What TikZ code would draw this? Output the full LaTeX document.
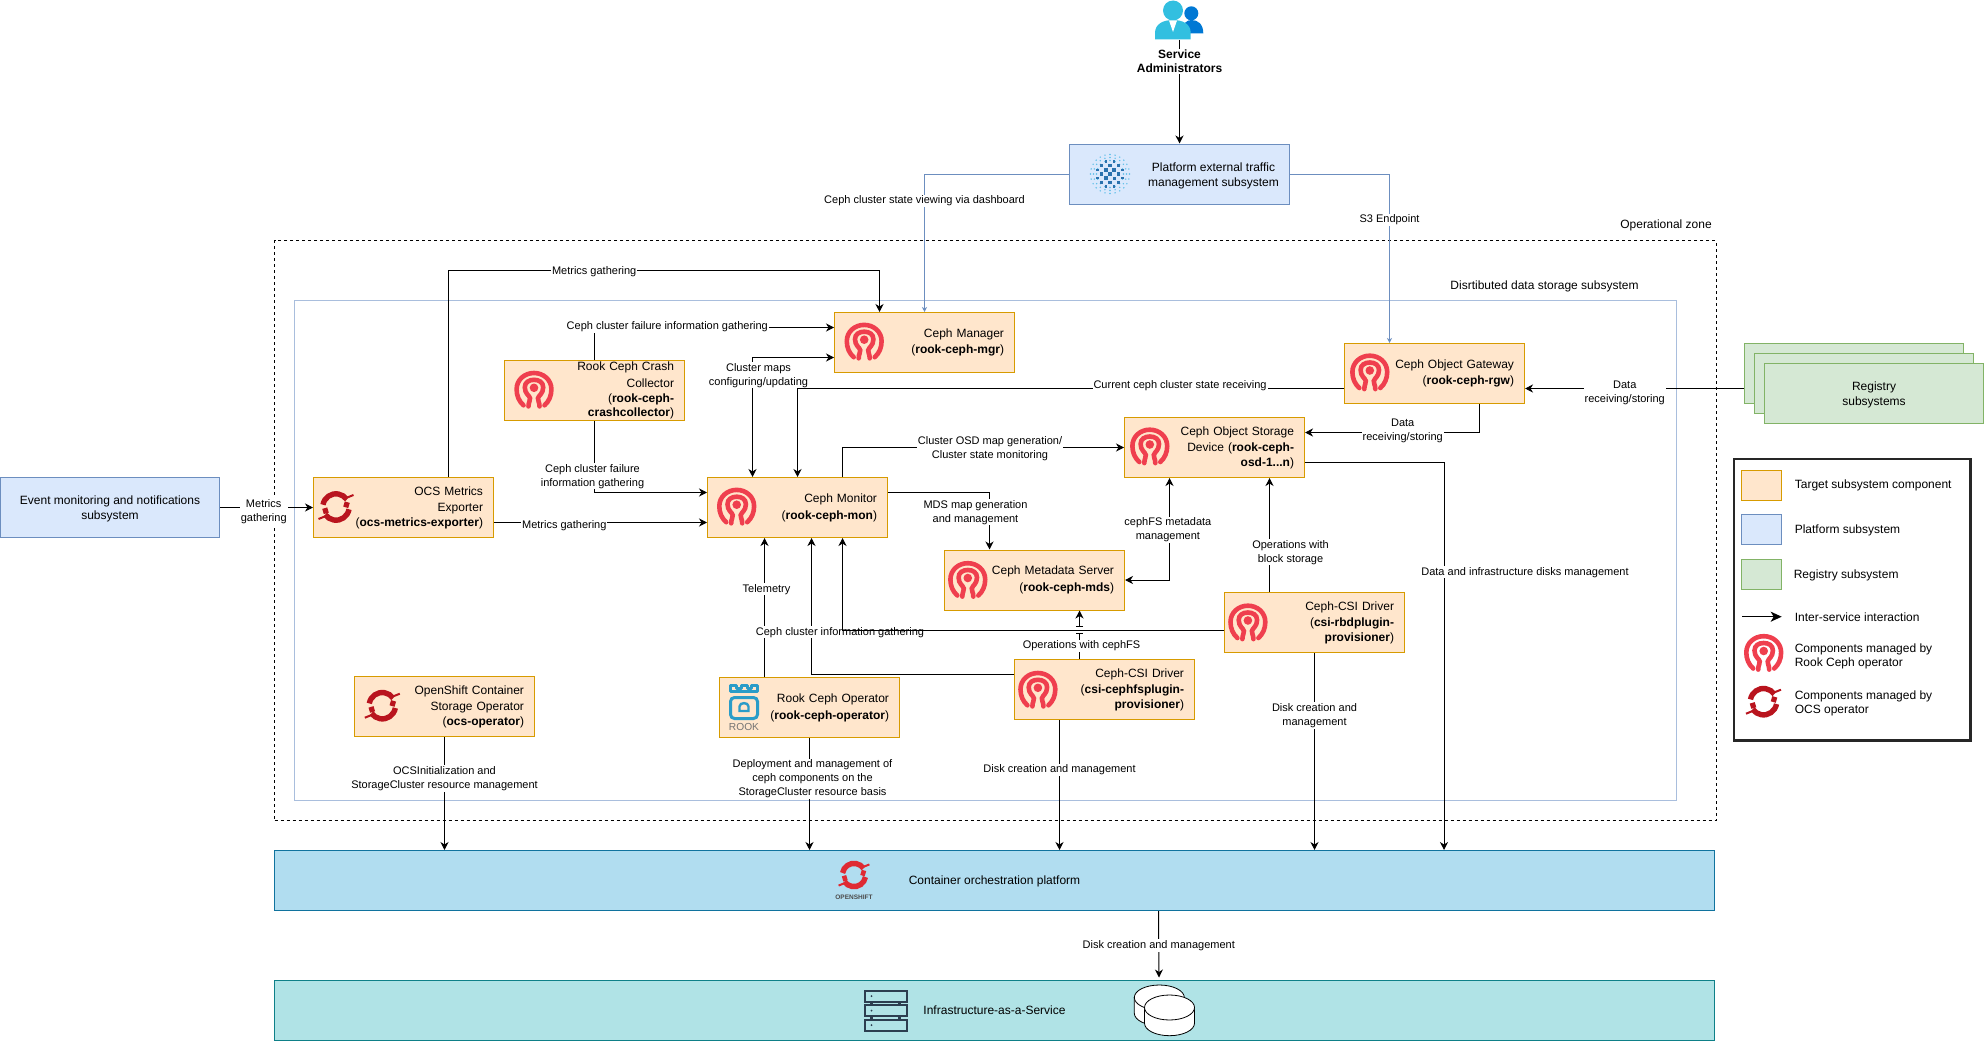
\documentclass[tikz,border=0pt]{standalone}
\usepackage{fontspec}
\setmainfont{Liberation Sans}
\usepackage{tikz}
\usetikzlibrary{arrows.meta,calc}
\definecolor{cfill}{HTML}{FFE6CC}
\definecolor{cline}{HTML}{D79B00}
\definecolor{pfill}{HTML}{DAE8FC}
\definecolor{pline}{HTML}{6C8EBF}
\definecolor{gfill}{HTML}{D5E8D4}
\definecolor{gline}{HTML}{82B366}
\definecolor{subline}{HTML}{A9BEDD}
\definecolor{cofill}{HTML}{B1DDF0}
\definecolor{coline}{HTML}{10739E}
\definecolor{iafill}{HTML}{B0E3E6}
\definecolor{ialine}{HTML}{0E8088}
\definecolor{cephred}{HTML}{EF3F4E}
\definecolor{ocsred}{HTML}{B9141E}
\definecolor{osred}{HTML}{DF2A33}
\definecolor{rookblue}{HTML}{2A9CC8}
\definecolor{slate}{HTML}{2C3E50}
\definecolor{adminlight}{HTML}{32BFE0}
\definecolor{admindark}{HTML}{0078D4}
\definecolor{dotlight}{HTML}{59BDE8}
\definecolor{dotdark}{HTML}{2A72AE}
\tikzset{
  pics/cephlogo/.style={code={
    \draw[cephred,line width=4.6pt,line cap=round]
      (-10.5,15.5) .. controls (-15,11.5) and (-17.4,6) .. (-17.4,-0.5)
      .. controls (-17.4,-10) and (-9.5,-16.8) .. (0,-16.8)
      .. controls (9.5,-16.8) and (17.4,-10) .. (17.4,-0.5)
      .. controls (17.4,6) and (15,11.5) .. (10.5,15.5);
    \draw[cephred,line width=4.6pt,line cap=round]
      (-5.5,16.6) .. controls (-5.5,12) and (-3.6,11) .. (-4,8.5)
      .. controls (-4.6,5.5) and (-9.2,4) .. (-9.2,-2.5)
      .. controls (-9.2,-7.5) and (-5,-10) .. (0,-10)
      .. controls (5,-10) and (9.2,-7.5) .. (9.2,-2.5)
      .. controls (9.2,4) and (4.6,5.5) .. (4,8.5)
      .. controls (3.6,11) and (5.5,12) .. (5.5,16.6);
    \fill[cephred] (0,-2) circle [radius=4.3];
  }},
  pics/ocslogo/.style={code={
    \draw[#1,line width=5.4pt] (190:13.2) arc [start angle=190,end angle=325,radius=13.2];
    \draw[#1,line width=5.4pt] (10:13.2) arc [start angle=10,end angle=145,radius=13.2];
    \draw[#1,line width=5.4pt] (8,-3) -- (13,-1.5);
    \draw[#1,line width=5.4pt] (-8,3) -- (-13,4.5);
    \draw[#1,line width=2pt] (10,-9) -- (17.5,-12);
    \draw[#1,line width=2pt] (-10,9) -- (-17.5,12);
  }},
  pics/rooklogo/.style={code={
    \draw[rookblue,line width=3pt,line join=round] (-13.5,-15.5) -- (-13.5,-21.5) -- (-7.5,-21.5) -- (-7.5,-18.5)
      -- (-3,-18.5) -- (-3,-21.5) -- (3,-21.5) -- (3,-18.5) -- (7.5,-18.5) -- (7.5,-21.5) -- (13.5,-21.5) -- (13.5,-15.5) -- cycle;
    \draw[rookblue,line width=3pt,rounded corners=4pt] (-13.5,-9.5) -- (13.5,-9.5) -- (13.5,11.5) -- (-13.5,11.5) -- cycle;
    \draw[rookblue,line width=2.4pt] (-4.5,4) -- (-4.5,-0.5) .. controls (-4.5,-5) and (4.5,-5) .. (4.5,-0.5) -- (4.5,4) -- cycle;
    \node[text=black!55,font=\fontsize{10.2}{11}\selectfont,inner sep=0pt] (rooktxt) at (0,19.5) {ROOK};
  }},
  pics/disklogo/.style={code={
    \draw[fill=white,line width=.8pt] (-25,0) -- (-25,15.7) .. controls (-25,22.6) and (-13.8,28.2) .. (0,28.2)
      .. controls (13.8,28.2) and (25,22.6) .. (25,15.7) -- (25,0) -- cycle;
    \draw[fill=white,line width=.8pt] (0,0) ellipse [x radius=25,y radius=12.5];
  }},
}
\begin{document}
\begin{tikzpicture}[x=1pt,y=-1pt,line width=1pt,
  font=\fontsize{12}{14.4}\selectfont,
  comp/.style={draw=cline,fill=cfill,minimum width=180pt,minimum height=60pt,text width=159pt,inner xsep=10.5pt,inner ysep=0pt,align=right,execute at begin node={\vspace*{2.4pt}}},
  platbox/.style={draw=pline,fill=pfill,minimum height=60pt,minimum width=219.5pt,inner sep=0pt,align=center,text depth=0pt},
  regbox/.style={draw=gline,fill=gfill,minimum height=60pt,minimum width=219.5pt,inner sep=0pt,align=center,text depth=0pt},
  layer/.style={minimum width=1440pt,minimum height=60pt,inner sep=0pt,text depth=0pt},
  swatch/.style={minimum width=40pt,minimum height=30pt,inner sep=0pt},
  legtxt/.style={anchor=west,inner sep=0pt,align=left,text depth=0pt},
  txt/.style={inner sep=0pt,align=center,text depth=0pt},
  lbl/.style={fill=white,text=black,inner sep=1pt,align=center,font=\fontsize{11}{14}\selectfont,yshift=-1.2pt},
  flow/.style={-{Stealth[length=8pt,width=8pt,inset=2.5pt]},black},
  biflow/.style={{Stealth[length=8pt,width=8pt,inset=2.5pt]}-{Stealth[length=8pt,width=8pt,inset=2.5pt]},black},
  blueflow/.style={-{Stealth[length=5pt,width=5pt,inset=1.5pt]},pline},
]
\useasboundingbox (0,0) rectangle (1984,1041);

% zones
\node[draw,dashed,minimum width=1441.5pt,minimum height=579.5pt,inner sep=0pt] (opzone) at (995.25,530.25) {};
\node[draw=subline,minimum width=1382pt,minimum height=500pt,inner sep=0pt] (subzone) at (985.5,550.5) {};
\node[txt] (opzonetxt) at (1666,224) {Operational zone};
\node[txt] (subzonetxt) at (1544.5,285) {Disrtibuted data storage subsystem};

% boxes
\node[minimum width=48pt,minimum height=40pt,inner sep=0pt] (admin) at (1179.5,20) {};
\node[platbox] (plat) at (1179.5,174) {};
\node[txt] (plattxt) at (1213.5,174.5) {Platform external traffic\\management subsystem};
\node[platbox,minimum width=219pt] (event) at (110,507.5) {Event monitoring and notifications\\subsystem};
\node[comp] (exporter) at (403.5,507.5) {OCS Metrics\hspace*{3.3pt}\\Exporter\hspace*{3.3pt}\\(\textbf{ocs-metrics-exporter})};
\node[comp] (crash) at (594.5,390.5) {Rook Ceph Crash\\Collector\hspace*{3.3pt}\\(\textbf{rook-ceph-}\\\textbf{crashcollector})};
\node[comp] (mgr) at (924.5,342.5) {Ceph Manager\hspace*{3.3pt}\\(\textbf{rook-ceph-mgr})};
\node[comp] (mon) at (797.5,507.5) {Ceph Monitor\hspace*{3.3pt}\\(\textbf{rook-ceph-mon})};
\node[comp] (gw) at (1434.5,373.5) {Ceph Object Gateway\hspace*{3.3pt}\\(\textbf{rook-ceph-rgw})};
\node[comp] (osd) at (1214.5,447.5) {Ceph Object Storage\\Device (\textbf{rook-ceph-}\\\textbf{osd-1...n})};
\node[comp] (mds) at (1034.5,580) {Ceph Metadata Server\hspace*{3.3pt}\\(\textbf{rook-ceph-mds})};
\node[comp] (rbd) at (1314.5,622.5) {Ceph-CSI Driver\hspace*{3.3pt}\\(\textbf{csi-rbdplugin-}\\\textbf{provisioner})};
\node[comp] (cephfs) at (1104.5,689.5) {Ceph-CSI Driver\hspace*{3.3pt}\\(\textbf{csi-cephfsplugin-}\\\textbf{provisioner})};
\node[comp] (rookop) at (809.5,707.5) {Rook Ceph Operator\hspace*{3.3pt}\\(\textbf{rook-ceph-operator})};
\node[comp] (ocsop) at (444.5,706.5) {OpenShift Container\\Storage Operator\hspace*{3.3pt}\\(\textbf{ocs-operator})};
\node[regbox] (reg1) at (1854,373.5) {};
\node[regbox] (reg2) at (1864,383.5) {};
\node[regbox] (reg3) at (1874,393.5) {Registry\\subsystems};
\node[layer,draw=coline,fill=cofill] (cop) at (994.5,880.5) {Container orchestration platform};
\node[layer,draw=ialine,fill=iafill] (iaas) at (994.5,1010.5) {Infrastructure-as-a-Service};
\node[minimum width=50pt,minimum height=54pt,inner sep=0pt] (disk) at (1159,1005) {};

% connectors
\draw[flow] (admin.south) -- node[lbl,pos=.19,font=\fontsize{12}{14}\bfseries\selectfont]{Service\\Administrators} (plat.north);
\draw[blueflow] (plat.west) -| node[lbl,pos=.594]{Ceph cluster state viewing via dashboard} (mgr.north);
\draw[blueflow] (plat.east) -| node[lbl,pos=.633]{S3 Endpoint} ([xshift=-45pt]gw.north);
\draw[flow] (event.east) -- node[lbl,pos=.47,yshift=-2.8pt]{Metrics\\gathering} (exporter.west);
\coordinate (mgrtop) at (879.5,270.5);
\draw[flow] ([xshift=45pt]exporter.north) |- node[lbl,pos=.669]{Metrics gathering} (mgrtop) -- ([xshift=-45pt]mgr.north);
\draw[flow] (crash.north) |- node[lbl,pos=.652,yshift=2pt]{Ceph cluster failure information gathering} ([yshift=15pt]mgr.west);
\draw[biflow] ([yshift=-15pt]mgr.west) -| node[lbl,pos=.569,xshift=6pt]{Cluster maps\\configuring/updating} ([xshift=-45pt]mon.north);
\draw[flow] ([yshift=-15pt]gw.west) -| node[lbl,pos=.15,yshift=4pt]{Current ceph cluster state receiving} (mon.north);
\draw[flow] ([xshift=45pt]mon.north) |- node[lbl,pos=.762]{Cluster OSD map generation/\\Cluster state monitoring} (osd.west);
\draw[flow] (crash.south) |- node[lbl,pos=.378,xshift=-2pt]{Ceph cluster failure\\information gathering} ([yshift=15pt]mon.west);
\draw[flow] ([yshift=-15pt]exporter.east) -- node[lbl,pos=.33,yshift=-2pt]{Metrics gathering} ([yshift=-15pt]mon.west);
\draw[flow] ([yshift=15pt]mon.east) -| node[lbl,pos=.663,xshift=-14pt]{MDS map generation\\and management} ([xshift=-45pt]mds.north);
\draw[biflow] ([xshift=-45pt]osd.south) |- node[lbl,pos=.248,xshift=-1.6pt]{cephFS metadata\\management} (mds.east);
\draw[flow] ([xshift=-45pt]rbd.north) -- node[lbl,pos=.36,xshift=21pt]{Operations with\\block storage} ([xshift=55pt]osd.south);
\draw[flow] ([xshift=45pt]gw.south) |- node[lbl,pos=.72,yshift=2.5pt]{Data\\receiving/storing} ([yshift=15pt]osd.east);
\draw[flow] ([yshift=-15pt]osd.east) -| node[lbl,pos=.64,xshift=81pt]{Data and infrastructure disks management} ([xshift=449.5pt]cop.north);
\draw[flow] ([yshift=-15pt]reg1.west) -- node[lbl,pos=.544,yshift=-3pt]{Data\\receiving/storing} ([yshift=-15pt]gw.east);
\draw[flow] ([xshift=-45pt]rookop.north) -- node[lbl,pos=.64,xshift=2pt]{Telemetry} ([xshift=-33pt]mon.south);
\draw[flow] ([yshift=15pt]cephfs.west) -| ([xshift=14pt]mon.south);
\node[lbl] (infolbl) at (840,631) {Ceph cluster information gathering};
\draw[flow] ([yshift=-7.5pt]rbd.west) -| ([xshift=45pt]mon.south);
\coordinate (jumplow) at (1079.5,633);
\coordinate (jumpup) at (1079.5,626.5);
\draw[-{Bar[width=7pt]}] ([xshift=-25pt]cephfs.north) -- node[lbl,pos=.55,xshift=2pt]{Operations with cephFS} (jumplow);
\draw[{Bar[width=7pt]}-{Stealth[length=8pt,width=8pt,inset=2.5pt]}] (jumpup) -- ([xshift=45pt]mds.south);
\draw[flow] (ocsop.south) -- node[lbl,pos=.357]{OCSInitialization and\\StorageCluster resource management} (ocsop.south |- cop.north);
\draw[flow] (rookop.south) -- node[lbl,pos=.352,xshift=3pt]{Deployment and management of\\ceph components on the\\StorageCluster resource basis} (rookop.south |- cop.north);
\draw[flow] ([xshift=-45pt]cephfs.south) -- node[lbl,pos=.374]{Disk creation and management} ([xshift=-45pt]cephfs.south |- cop.north);
\draw[flow] (rbd.south) -- node[lbl,pos=.311]{Disk creation and\\management} (rbd.south |- cop.north);
\draw[flow] ([xshift=164pt]cop.south) -- node[lbl,pos=.5]{Disk creation and management} (disk.north);

% icons
\pic at (736.7,506.7) {cephlogo};
\pic at (534,389.8) {cephlogo};
\pic at (864.2,341.7) {cephlogo};
\pic at (967.8,580) {cephlogo};
\pic at (1149.8,446.5) {cephlogo};
\pic at (1369.8,372.5) {cephlogo};
\pic at (1247.9,622.5) {cephlogo};
\pic at (1037.9,689.8) {cephlogo};
\pic at (336,507) {ocslogo=ocsred};
\pic at (382.3,705.7) {ocslogo=ocsred};
\pic[scale=.88] at (854,875) {ocslogo=osred};
\node[txt,font=\fontsize{6.5}{7}\bfseries\selectfont,text=black!70] (ostxt) at (854,897.7) {OPENSHIFT};
\pic at (744,707) {rooklogo};
\foreach \yy in {996,1010.5,1025}{
  \draw[slate,line width=2pt,fill=iafill] (864.5,\yy-5.5) rectangle (906.5,\yy+5.5);
  \fill[slate] (871.5,\yy) circle [radius=1pt];
}
\foreach \yy in {1002.5,1017}{
  \fill[slate] (870,\yy-1.5) rectangle (873,\yy+1.5);
  \fill[slate] (898,\yy-1.5) rectangle (901,\yy+1.5);
}
\pic at (1159.3,997.5) {disklogo};
\pic at (1169.5,1007.5) {disklogo};

% admin and traffic logos
\fill[admindark] (1191.3,13.3) circle [radius=7];
\fill[admindark] (1182,33.5) .. controls (1182,23) and (1187,20) .. (1191.3,20) .. controls (1198,20) and (1203.3,24) .. (1203.3,33.5) -- cycle;
\fill[adminlight] (1173,10.5) circle [radius=10];
\fill[adminlight] (1155,39.3) -- (1155,33) .. controls (1155,24) and (1163,20) .. (1173,20) .. controls (1183,20) and (1190.7,24) .. (1190.7,33) -- (1190.7,39.3) -- cycle;
\fill[white] (1169,20.5) -- (1177,20.5) -- (1173,32) -- cycle;
\foreach \rr/\nn in {19.5/24,16.5/20,13.5/16}{
  \foreach \ii in {1,...,\nn}{
    \fill[dotlight] ($(1110,174)+({\ii*360/\nn}:\rr)$) circle [radius=.8pt];
  }
}
\foreach \dx/\dy/\ss in {0/0/4.4,1/-1/4.4,-1/1/4.4,1/1/3.4,-1/-1/3.4,2/0/3.4,-2/0/3.4,0/2/3.4,0/-2/3.4,2/-2/2.4,-2/2/2.4,2/2/2.4,-2/-2/2.4,3/-1/2.4,-3/1/2.4,1/3/2.4,-1/-3/2.4,3/1/2.4,-3/-1/2.4,1/-3/2.4,-1/3/2.4}{
  \fill[dotdark] (1110+4.2*\dx-\ss/2,174+4.2*\dy-\ss/2) rectangle ++(\ss,\ss);
}

% legend
\node[draw=black!85,line width=2.5pt,minimum width=236.5pt,minimum height=281.5pt,inner sep=0pt] (legend) at (1852.3,599.7) {};
\node[swatch,draw=cline,fill=cfill] (legt) at (1761.5,485.8) {};
\node[swatch,draw=pline,fill=pfill] (legp) at (1761.5,529.8) {};
\node[swatch,draw=gline,fill=gfill] (legr) at (1761.5,574.8) {};
\node[legtxt] (legttxt) at (1794.3,484.3) {Target subsystem component};
\node[legtxt] (legptxt) at (1794.3,529.3) {Platform subsystem};
\node[legtxt] (legrtxt) at (1793.3,573.7) {Registry subsystem};
\node[legtxt] (legatxt) at (1794.3,616.7) {Inter-service interaction};
\node[legtxt] (legctxt) at (1794.3,655.2) {Components managed by\\Rook Ceph operator};
\node[legtxt] (legotxt) at (1794.3,702.2) {Components managed by\\OCS operator};
\coordinate (legafrom) at (1742.3,616.7);
\coordinate (legato) at (1781.7,616.7);
\draw[-{Stealth[length=11pt,width=10pt,inset=3pt]},line width=1.5pt] (legafrom) -- (legato);
\pic at (1763.7,653) {cephlogo};
\pic at (1763.5,701.7) {ocslogo=ocsred};
\end{tikzpicture}
\end{document}
